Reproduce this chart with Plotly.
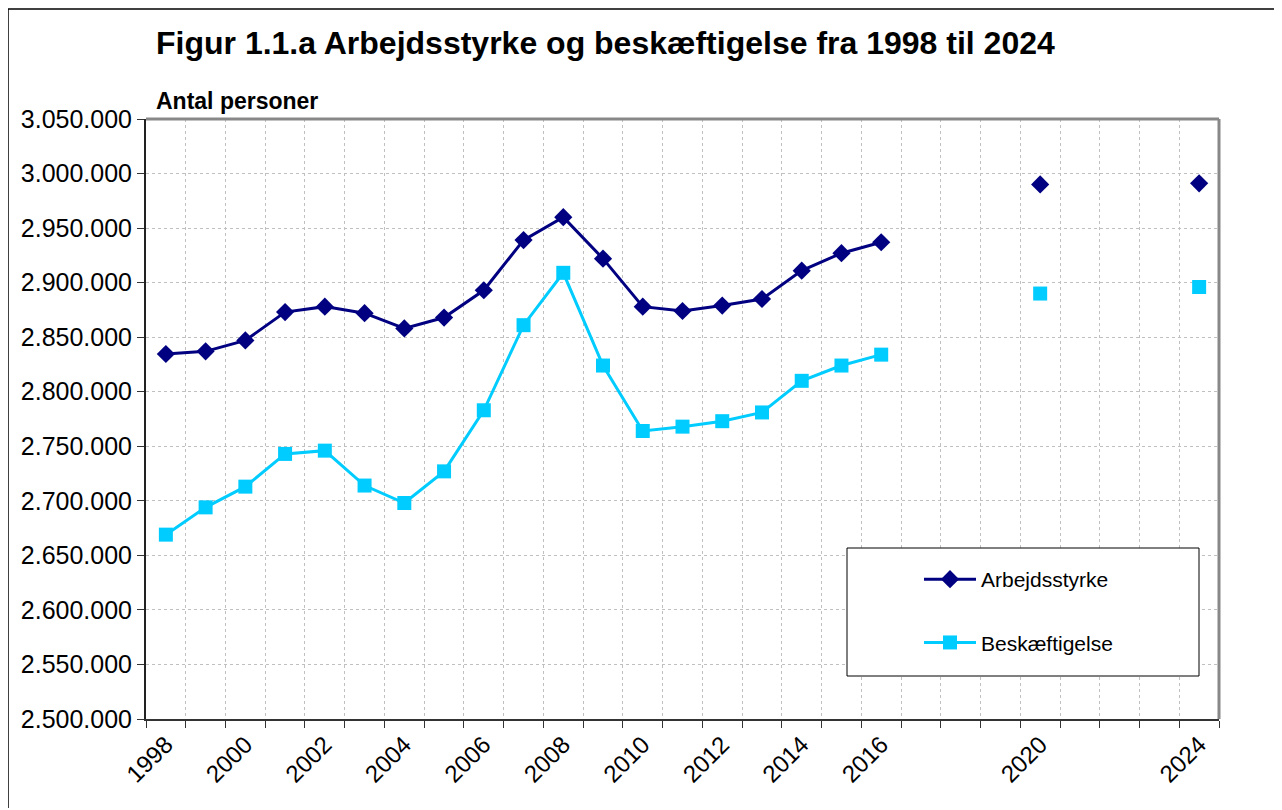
import plotly.graph_objects as go

years_a = [1998, 1999, 2000, 2001, 2002, 2003, 2004, 2005, 2006, 2007, 2008,
           2009, 2010, 2011, 2012, 2013, 2014, 2015, 2016]
arbejdsstyrke = [2834600, 2837000, 2847000, 2873000, 2878000, 2872000, 2858000,
                 2868000, 2893000, 2939000, 2960000, 2922000, 2878000, 2874000,
                 2879000, 2885000, 2911000, 2927000, 2937000]
beskaeftigelse = [2669000, 2694000, 2713000, 2743000, 2746000, 2714000, 2698000,
                  2727000, 2783000, 2861000, 2909000, 2824000, 2764000, 2768000,
                  2773000, 2781000, 2810000, 2824000, 2834000]
years_proj = [2020, 2024]
arbejdsstyrke_proj = [2990000, 2991000]
beskaeftigelse_proj = [2890000, 2896000]

tick_years = [1998, 2000, 2002, 2004, 2006, 2008, 2010, 2012, 2014, 2016, 2020, 2024]
boundaries = [y - 0.5 for y in range(1998, 2026)]

NAVY = "#000080"
CYAN = "#00CCFF"
FONT = "Liberation Sans, Arial, sans-serif"

fig = go.Figure()
fig.add_trace(go.Scatter(
    x=years_a, y=arbejdsstyrke, mode="lines+markers", name="Arbejdsstyrke",
    line=dict(color=NAVY, width=3), legendgroup="a",
    marker=dict(symbol="diamond", size=14, color=NAVY)))
fig.add_trace(go.Scatter(
    x=years_proj, y=arbejdsstyrke_proj, mode="markers", showlegend=False,
    legendgroup="a", marker=dict(symbol="diamond", size=14, color=NAVY)))
fig.add_trace(go.Scatter(
    x=years_a, y=beskaeftigelse, mode="lines+markers", name="Beskæftigelse",
    line=dict(color=CYAN, width=3), legendgroup="b",
    marker=dict(symbol="square", size=14, color=CYAN)))
fig.add_trace(go.Scatter(
    x=years_proj, y=beskaeftigelse_proj, mode="markers", showlegend=False,
    legendgroup="b", marker=dict(symbol="square", size=14, color=CYAN)))

OFF = 7  # page offset of the figure
W, H = 1274, 800
L, R, T, B = 145 - OFF, 1218 - OFF, 118 - OFF, 718 - OFF
pw, ph = R - L, B - T

def px(x):  # reference page x -> paper
    return (x - OFF - L) / pw

def py(y):  # reference page y -> paper
    return (B - (y - OFF)) / ph

fig.update_layout(
    width=W, height=H,
    margin=dict(l=L, r=W - R, t=T, b=H - B, pad=0),
    paper_bgcolor="white", plot_bgcolor="white",
    separators=",.",
    font=dict(family=FONT, color="black"),
    showlegend=True,
    legend=dict(x=px(918), y=py(558), xanchor="left", yanchor="top",
                bgcolor="rgba(0,0,0,0)", borderwidth=0,
                font=dict(size=21, family=FONT),
                traceorder="grouped", tracegroupgap=33, itemwidth=52),
    xaxis=dict(
        range=[1997.5, 2024.5], showgrid=False, zeroline=False,
        tickmode="array", tickvals=tick_years, ticktext=[str(t) for t in tick_years],
        ticks="", tickangle=-45, tickfont=dict(size=24, family=FONT),
        showline=True, linecolor="#333333", linewidth=2, mirror=False,
        minor=dict(tickmode="array", tickvals=boundaries, ticks="outside",
                   ticklen=7, tickcolor="#333333", tickwidth=1,
                   showgrid=True, gridcolor="#C0C0C0", griddash="dot", gridwidth=1),
    ),
    yaxis=dict(
        range=[2500000, 3050000], dtick=50000, tick0=2500000, tickformat=",d",
        showgrid=True, gridcolor="#C0C0C0", griddash="dot", gridwidth=1,
        zeroline=False, ticks="outside", ticklen=7, tickcolor="#333333",
        showline=True, linecolor="#222222", linewidth=2,
        tickfont=dict(size=25, family=FONT),
    ),
    shapes=[
        dict(type="line", xref="paper", yref="paper", x0=0, x1=1, y0=1, y1=1,
             line=dict(color="#888888", width=3)),
        dict(type="line", xref="paper", yref="paper", x0=1, x1=1, y0=0, y1=1,
             line=dict(color="#888888", width=3)),
        dict(type="rect", xref="paper", yref="paper", layer="above",
             x0=px(846), x1=px(1198), y0=py(675), y1=py(547),
             fillcolor="white", line=dict(color="black", width=1)),
        dict(type="line", xref="paper", yref="paper", x0=px(7), x1=px(1290),
             y0=py(8), y1=py(8), line=dict(color="black", width=1.5)),
        dict(type="line", xref="paper", yref="paper", x0=px(7), x1=px(7),
             y0=py(8), y1=py(820), line=dict(color="black", width=1.5)),
    ],
    annotations=[
        dict(text="<b>Figur 1.1.a Arbejdsstyrke og beskæftigelse fra 1998 til 2024</b>",
             xref="paper", yref="paper", x=px(153), y=py(42), xanchor="left",
             yanchor="middle", showarrow=False, font=dict(size=32, family=FONT)),
        dict(text="<b>Antal personer</b>",
             xref="paper", yref="paper", x=px(153), y=py(100), xanchor="left",
             yanchor="middle", showarrow=False, font=dict(size=23, family=FONT)),
    ],
)

fig.write_html("out.html")
